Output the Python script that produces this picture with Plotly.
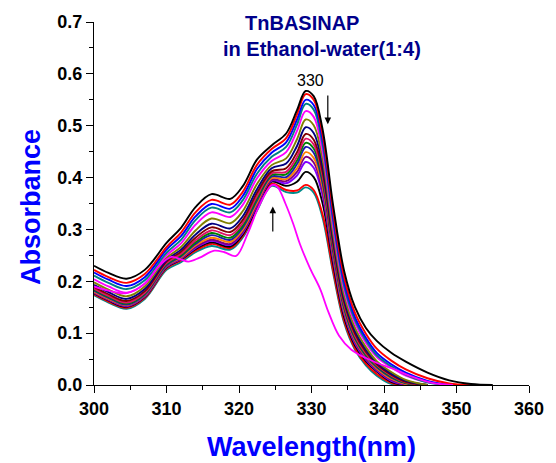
import plotly.graph_objects as go

# ---------------- data ----------------
wavelength = [300, 302, 304.5, 307, 310, 312, 314, 316.2, 318.8, 320.5, 322.5, 324.5,
              326.5, 328, 329.2, 330.3, 331.5, 333, 334.5, 336, 337.5, 339, 341, 343,
              346, 349, 352, 355]

abs_01 = [0.230, 0.216, 0.205, 0.222, 0.274, 0.303, 0.343, 0.368, 0.359, 0.383, 0.435, 0.462, 0.485, 0.530, 0.567, 0.557, 0.495, 0.345, 0.220, 0.150, 0.110, 0.085, 0.062, 0.045, 0.024, 0.009, 0.002, 0.000]
abs_02 = [0.222, 0.208, 0.197, 0.214, 0.266, 0.294, 0.333, 0.357, 0.348, 0.372, 0.425, 0.455, 0.476, 0.522, 0.561, 0.550, 0.485, 0.333, 0.208, 0.139, 0.099, 0.070, 0.047, 0.030, 0.013, 0.003, 0.000]
abs_03 = [0.217, 0.203, 0.191, 0.208, 0.261, 0.287, 0.325, 0.349, 0.340, 0.364, 0.417, 0.448, 0.468, 0.512, 0.550, 0.540, 0.475, 0.323, 0.199, 0.131, 0.091, 0.062, 0.040, 0.024, 0.008, 0.000]
abs_04 = [0.211, 0.197, 0.185, 0.202, 0.255, 0.280, 0.318, 0.342, 0.333, 0.356, 0.408, 0.440, 0.459, 0.502, 0.542, 0.531, 0.465, 0.314, 0.191, 0.125, 0.086, 0.057, 0.036, 0.020, 0.005, 0.000]
abs_05 = [0.204, 0.190, 0.178, 0.196, 0.250, 0.273, 0.309, 0.333, 0.324, 0.347, 0.399, 0.432, 0.449, 0.490, 0.528, 0.517, 0.452, 0.303, 0.183, 0.119, 0.081, 0.054, 0.034, 0.018, 0.005, 0.000]
abs_06 = [0.198, 0.184, 0.171, 0.190, 0.245, 0.266, 0.298, 0.321, 0.312, 0.335, 0.388, 0.424, 0.437, 0.474, 0.512, 0.501, 0.437, 0.290, 0.173, 0.110, 0.073, 0.046, 0.025, 0.010, 0.000]
abs_07 = [0.193, 0.179, 0.166, 0.185, 0.241, 0.261, 0.290, 0.311, 0.302, 0.325, 0.378, 0.418, 0.427, 0.461, 0.497, 0.486, 0.424, 0.280, 0.166, 0.104, 0.068, 0.043, 0.022, 0.008, 0.000]
abs_08 = [0.189, 0.175, 0.162, 0.181, 0.238, 0.257, 0.284, 0.304, 0.295, 0.318, 0.371, 0.412, 0.418, 0.449, 0.484, 0.473, 0.413, 0.272, 0.160, 0.099, 0.064, 0.040, 0.020, 0.006, 0.000]
abs_09 = [0.186, 0.172, 0.159, 0.178, 0.235, 0.253, 0.279, 0.298, 0.289, 0.312, 0.365, 0.408, 0.411, 0.440, 0.475, 0.464, 0.405, 0.266, 0.155, 0.095, 0.061, 0.038, 0.018, 0.005, 0.000]
abs_10 = [0.184, 0.170, 0.157, 0.176, 0.233, 0.250, 0.275, 0.293, 0.284, 0.307, 0.360, 0.405, 0.406, 0.433, 0.467, 0.456, 0.398, 0.261, 0.151, 0.092, 0.058, 0.036, 0.016, 0.004, 0.000]
abs_11 = [0.182, 0.168, 0.155, 0.174, 0.231, 0.248, 0.272, 0.289, 0.280, 0.303, 0.356, 0.402, 0.401, 0.426, 0.459, 0.448, 0.391, 0.256, 0.147, 0.089, 0.056, 0.034, 0.014, 0.003, 0.000]
abs_12 = [0.180, 0.166, 0.154, 0.173, 0.230, 0.246, 0.269, 0.284, 0.276, 0.299, 0.352, 0.399, 0.397, 0.418, 0.449, 0.438, 0.383, 0.251, 0.143, 0.086, 0.054, 0.032, 0.012, 0.002, 0.000]
abs_13 = [0.179, 0.165, 0.153, 0.172, 0.229, 0.244, 0.266, 0.280, 0.272, 0.295, 0.348, 0.396, 0.393, 0.411, 0.440, 0.429, 0.375, 0.246, 0.140, 0.083, 0.051, 0.030, 0.010, 0.001, 0.000]
abs_14 = [0.178, 0.164, 0.152, 0.171, 0.228, 0.243, 0.264, 0.278, 0.270, 0.293, 0.346, 0.394, 0.389, 0.404, 0.430, 0.419, 0.367, 0.241, 0.137, 0.080, 0.049, 0.028, 0.008, 0.000]
abs_15 = [0.177, 0.163, 0.151, 0.170, 0.227, 0.242, 0.262, 0.275, 0.267, 0.290, 0.343, 0.392, 0.384, 0.392, 0.411, 0.401, 0.352, 0.232, 0.131, 0.076, 0.046, 0.026, 0.006, 0.000]
abs_16 = [0.175, 0.161, 0.149, 0.168, 0.225, 0.240, 0.259, 0.272, 0.264, 0.287, 0.340, 0.388, 0.376, 0.375, 0.386, 0.376, 0.330, 0.220, 0.124, 0.071, 0.041, 0.021, 0.004, 0.000]
abs_17 = [0.173, 0.159, 0.147, 0.166, 0.222, 0.237, 0.256, 0.268, 0.261, 0.284, 0.337, 0.384, 0.372, 0.371, 0.381, 0.371, 0.324, 0.215, 0.120, 0.068, 0.038, 0.018, 0.002, 0.000]

# the separate magenta spectrum
ref_wavelength = [300, 302, 304.5, 307, 309, 310.7, 312, 313, 314.5, 316.6, 318, 319.6, 321.2,
                  322.5, 323.9, 324.6, 325.3, 326.4, 327.5, 328.4, 329.8, 331.2, 332.3,
                  333.8, 335.5, 337.5, 339.5, 341.3, 343.5, 345.6, 347.5, 349.5]
ref_abs = [0.190, 0.182, 0.177, 0.195, 0.230, 0.247, 0.242, 0.238, 0.245, 0.259, 0.256, 0.249,
           0.292, 0.337, 0.375, 0.386, 0.382, 0.350, 0.310, 0.272, 0.225, 0.185, 0.142,
           0.095, 0.068, 0.052, 0.040, 0.031, 0.018, 0.008, 0.002, 0.000]

series = [abs_01, abs_02, abs_03, abs_04, abs_05, abs_06, abs_07, abs_08, abs_09,
          abs_10, abs_11, abs_12, abs_13, abs_14, abs_15, abs_16, abs_17]
colors = ["#000000", "#FF0000", "#0000FF", "#008080", "#FF00FF", "#808000", "#000080",
          "#800000", "#E0106A", "#008000", "#1A1AB0", "#FF8000", "#800080", "#8000FF",
          "#000000", "#FF0000", "#008B8B"]

x_ticks = [300, 310, 320, 330, 340, 350, 360]
y_ticks = [0.0, 0.1, 0.2, 0.3, 0.4, 0.5, 0.6, 0.7]

# ---------------- figure ----------------
fig = go.Figure()
for vals, col in zip(series[::-1], colors[::-1]):
    fig.add_trace(go.Scatter(
        x=wavelength[:len(vals)], y=vals, mode="lines",
        line=dict(color=col, width=1.9, shape="spline", smoothing=1.0),
        hoverinfo="skip", showlegend=False))

fig.add_trace(go.Scatter(
    x=ref_wavelength, y=ref_abs, mode="lines",
    line=dict(color="#FF00FF", width=1.8, shape="spline", smoothing=1.0),
    hoverinfo="skip", showlegend=False))

tick_font = dict(family="Liberation Sans, Arial, sans-serif", size=18, color="black", weight="bold")

fig.update_layout(
    width=556, height=463,
    margin=dict(l=94, r=20, t=19, b=78),
    plot_bgcolor="white", paper_bgcolor="white",
    xaxis=dict(range=[300, 360], tickvals=x_ticks, ticks="outside", ticklen=7,
               tickwidth=1.2, tickcolor="black", showline=True, linecolor="black",
               linewidth=1.2, showgrid=False, zeroline=False, tickfont=tick_font,
               minor=dict(ticks="outside", ticklen=4, tickwidth=1.2, tickcolor="black",
                          dtick=5, tick0=300, showgrid=False)),
    yaxis=dict(range=[0, 0.7], tickvals=y_ticks, tickformat=".1f", ticks="outside",
               ticklen=7, tickwidth=1.2, tickcolor="black", showline=True,
               linecolor="black", linewidth=1.2, showgrid=False, zeroline=False,
               tickfont=tick_font,
               minor=dict(ticks="outside", ticklen=4, tickwidth=1.2, tickcolor="black",
                          dtick=0.05, tick0=0, showgrid=False)),
)

title_font = dict(family="Liberation Sans, Arial, sans-serif", size=20, color="#00008B", weight="bold")
axis_title_font = dict(family="Liberation Sans, Arial, sans-serif", size=27, color="#0000FF", weight="bold")

fig.add_annotation(text="TnBASINAP", x=328.7, y=0.699, xref="x", yref="y",
                   showarrow=False, font=title_font, xanchor="center", yanchor="middle")
fig.add_annotation(text="in Ethanol-water(1:4)", x=331.4, y=0.647, xref="x", yref="y",
                   showarrow=False, font=title_font, xanchor="center", yanchor="middle")
fig.add_annotation(text="330", x=329.9, y=0.588, xref="x", yref="y", showarrow=False,
                   font=dict(family="Liberation Sans, Arial, sans-serif", size=16, color="black"),
                   xanchor="center", yanchor="middle")
# arrows
fig.add_annotation(x=332.25, y=0.503, ax=332.25, ay=0.561, xref="x", yref="y",
                   axref="x", ayref="y", text="", showarrow=True, arrowhead=2,
                   arrowsize=1.1, arrowwidth=1.2, arrowcolor="black", standoff=0)
fig.add_annotation(x=324.66, y=0.344, ax=324.66, ay=0.293, xref="x", yref="y",
                   axref="x", ayref="y", text="", showarrow=True, arrowhead=2,
                   arrowsize=1.1, arrowwidth=1.2, arrowcolor="black", standoff=0)

fig.add_annotation(text="Absorbance", x=-0.145, y=0.49, xref="paper", yref="paper",
                   textangle=-90, showarrow=False, font=axis_title_font,
                   xanchor="center", yanchor="middle")
fig.add_annotation(text="Wavelength(nm)", x=0.5, y=-0.172, xref="paper", yref="paper",
                   showarrow=False, font=axis_title_font, xanchor="center", yanchor="middle")

fig.write_html("out.html")
